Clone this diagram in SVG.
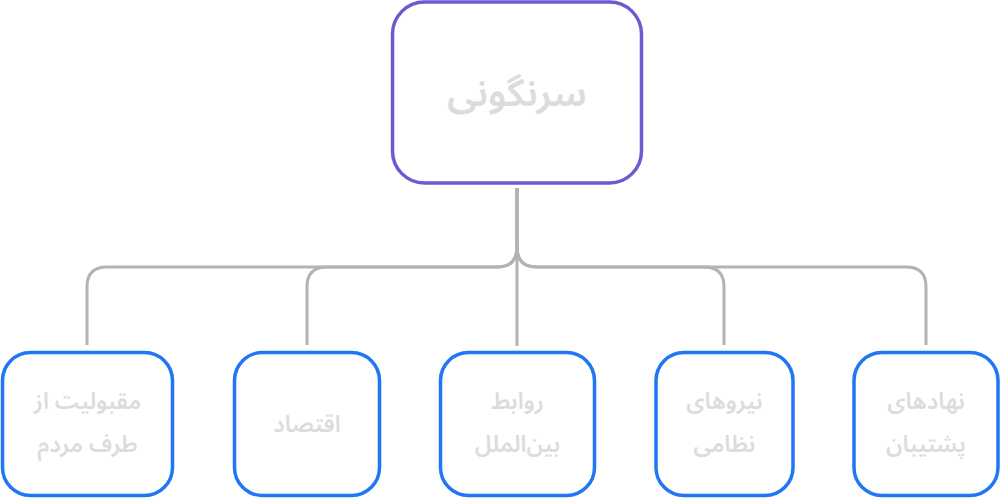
<svg xmlns="http://www.w3.org/2000/svg" width="1000" height="498" viewBox="0 0 1000 498">
<style>
.root{fill:#ffffff;stroke:#6B5BD2;stroke-width:3.5}
.child{fill:#ffffff;stroke:#2176F5;stroke-width:3.5}
.conn{fill:none;stroke:#B3B3B3;stroke-width:3}
.t{font-family:"Noto Sans Arabic","Vazirmatn","DejaVu Sans",sans-serif;fill:#DCDCDC;text-anchor:middle;font-weight:600}
.tr{font-size:38px}
.tc{font-size:23px}
</style>
<rect width="1000" height="498" fill="#ffffff"/>
<g id="connectors">
<path class="conn" d="M517,188 V247 Q517,267 497,267 H107 Q87,267 87,287 V345"/>
<path class="conn" d="M517,188 V247 Q517,267 497,267 H327 Q307,267 307,287 V345"/>
<path class="conn" d="M517,188 V346"/>
<path class="conn" d="M517,188 V247 Q517,267 537,267 H704 Q724,267 724,287 V345"/>
<path class="conn" d="M517,188 V247 Q517,267 537,267 H906 Q926,267 926,287 V345"/>
</g>
<g id="root">
<rect class="root" x="392.5" y="2" width="249" height="181" rx="32"/>
<text class="t tr" x="517" y="106" direction="rtl">سرنگونی</text>
</g>
<g id="n1">
<rect class="child" x="2.5" y="352.5" width="170" height="143" rx="28"/>
<text class="t tc" x="87.5" y="409" direction="rtl">مقبولیت از</text>
<text class="t tc" x="87.5" y="452" direction="rtl">طرف مردم</text>
</g>
<g id="n2">
<rect class="child" x="234.5" y="352.5" width="145" height="143" rx="28"/>
<text class="t tc" x="307" y="432" direction="rtl">اقتصاد</text>
</g>
<g id="n3">
<rect class="child" x="440.5" y="352.5" width="154" height="143" rx="28"/>
<text class="t tc" x="517.5" y="409" direction="rtl">روابط</text>
<text class="t tc" x="517.5" y="452" direction="rtl">بین‌الملل</text>
</g>
<g id="n4">
<rect class="child" x="656" y="352.5" width="137" height="143" rx="28"/>
<text class="t tc" x="724.5" y="409" direction="rtl">نیروهای</text>
<text class="t tc" x="724.5" y="452" direction="rtl">نظامی</text>
</g>
<g id="n5">
<rect class="child" x="854" y="352.5" width="144" height="143" rx="28"/>
<text class="t tc" x="926" y="409" direction="rtl">نهادهای</text>
<text class="t tc" x="926" y="452" direction="rtl">پشتیبان</text>
</g>
</svg>
